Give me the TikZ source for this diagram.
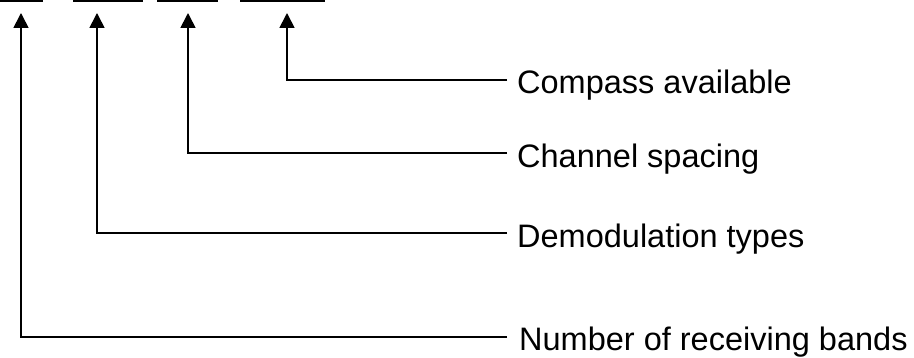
\documentclass[tikz,border=0pt]{standalone}
\usepackage{fontspec}
\setmainfont{Liberation Sans}
\usetikzlibrary{arrows.meta}

\begin{document}
\begin{tikzpicture}[x=1pt,y=-1pt,
  lbl/.style={anchor=base west,inner sep=0pt,font=\fontsize{32.5}{38}\selectfont},
  blank/.style={line width=2pt},
  lead/.style={line width=1.7pt,-{Triangle[length=15pt,width=15pt]}}]
 \useasboundingbox (0,0) rectangle (914,358);
 % the four blanks
 \draw [blank] (0,1.5) -- (43,1.5);
 \draw [blank] (73,1.5) -- (143,1.5);
 \draw [blank] (157,1.5) -- (218,1.5);
 \draw [blank] (240,1.5) -- (325,1.5);
 % arrow tips under the blanks
 \coordinate (tipA) at (21,13);
 \coordinate (tipB) at (97,13);
 \coordinate (tipC) at (188,13);
 \coordinate (tipD) at (287,13);
 % labels
 \node[lbl] (compass) at (517,94) {Compass available};
 \node[lbl] (spacing) at (517,168) {Channel spacing};
 \node[lbl] (demod) at (517,248) {Demodulation types};
 \node[lbl] (bands) at (519,351) {Number of receiving bands};
 % leaders
 \draw [lead] (507,80) -- (287,80) -- (tipD);
 \draw [lead] (507,153) -- (188,153) -- (tipC);
 \draw [lead] (507,233) -- (97,233) -- (tipB);
 \draw [lead] (507,337) -- (21,337) -- (tipA);
\end{tikzpicture}
\end{document}
